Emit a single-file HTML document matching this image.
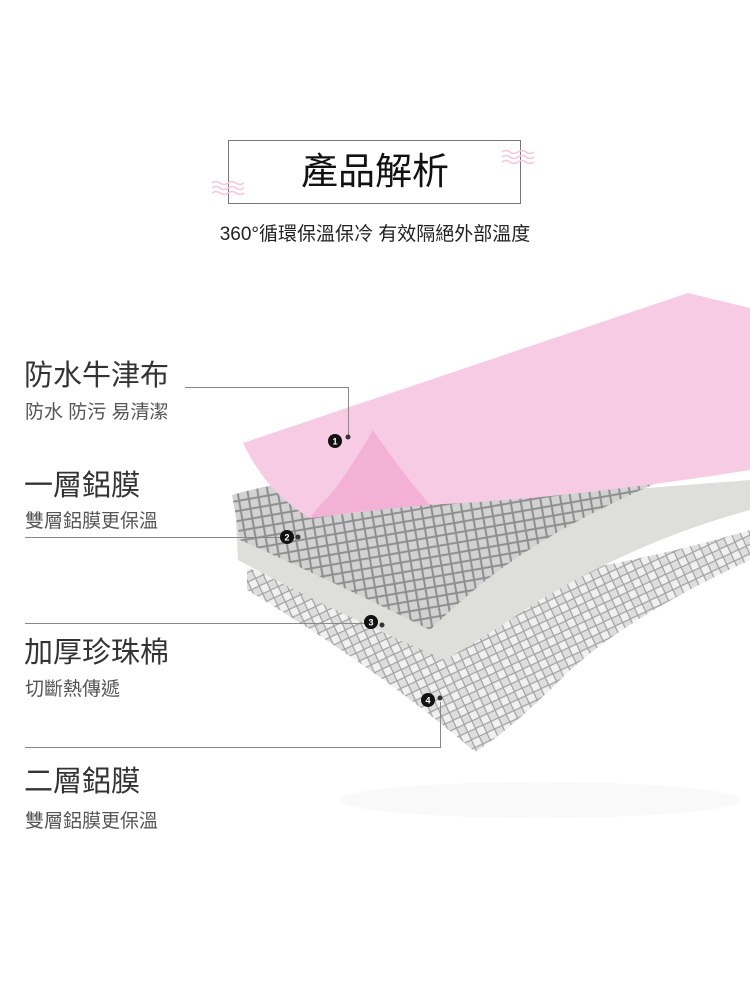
<!DOCTYPE html>
<html><head><meta charset="utf-8"><style>
body{margin:0;width:750px;height:1000px;background:#fff;position:relative;overflow:hidden;font-family:"Liberation Sans","Noto Sans CJK TC",sans-serif}
.t{position:absolute;white-space:nowrap;line-height:1}
.h{font-size:29px;color:#333}
.s{font-size:19px;color:#555}
</style></head><body>
<svg width="750" height="1000" style="position:absolute;left:0;top:0">
<defs>
<pattern id="q" width="14" height="14" patternUnits="userSpaceOnUse" patternTransform="rotate(35)">
<rect width="14" height="14" fill="#d2d2d2"/><path d="M0 0L14 14M14 0L0 14" stroke="#8e8e8e" stroke-width="2"/></pattern>
<pattern id="d" width="12" height="12" patternUnits="userSpaceOnUse" patternTransform="rotate(20)">
<rect width="12" height="12" fill="#dedede"/><path d="M6 0L12 6L6 12L0 6Z" fill="#f0f0f0" stroke="#a0a0a0" stroke-width="1.2"/></pattern>
</defs>
<ellipse cx="540" cy="800" rx="200" ry="18" fill="#f9f9f9"/>
<path d="M247 568 Q350 600 520 580 Q650 560 750 530 L750 560 Q620 620 560 680 Q510 730 475 752 Q380 670 247 590 Z" fill="url(#d)"/>
<path d="M236 520 L750 480 L750 510 Q640 540 540 600 Q480 640 445 660 Q330 610 238 560 Z" fill="#dededa"/>
<path d="M232 495 Q300 475 380 480 L700 465 Q560 520 480 585 Q450 610 430 630 Q330 580 240 540 Z" fill="url(#q)"/>
<path d="M688 293 L750 308 L750 470 Q560 500 420 505 Q360 512 310 518 Q280 500 262 475 Q250 458 243 443 Z" fill="#f8cbe4"/>
<path d="M373 430 Q350 470 330 495 Q315 510 310 518 Q370 510 430 505 Q400 470 373 430 Z" fill="#f3b2d5"/>
<g stroke="#888" stroke-width="1" fill="none">
<path d="M185 387.5H348.5V437"/>
<path d="M25 537.5H298"/>
<path d="M25 623.5H367"/>
<path d="M25 747.5H440.5V702"/>
</g>
<g font-family="Liberation Sans" font-size="9" font-weight="bold" fill="#fff" text-anchor="middle">
<circle cx="335" cy="441" r="7" fill="#111"/><circle cx="348" cy="437" r="2.5" fill="#333"/><text x="335" y="444.5">1</text>
<circle cx="287" cy="537" r="7" fill="#111"/><circle cx="298" cy="537" r="2.5" fill="#333"/><text x="287" y="540.5">2</text>
<circle cx="371" cy="622" r="7" fill="#111"/><circle cx="382" cy="625" r="2.5" fill="#333"/><text x="371" y="625.5">3</text>
<circle cx="428" cy="700" r="7" fill="#111"/><circle cx="440" cy="698" r="2.5" fill="#333"/><text x="428" y="703.5">4</text>
</g>
<rect x="228.5" y="140.5" width="292" height="63" fill="none" stroke="#777" stroke-width="1"/>
<g stroke="#f7c6dd" stroke-width="1.5" fill="none">
<path d="M212 183q4-3 8 0t8 0t8 0t8 0M212 188q4-3 8 0t8 0t8 0t8 0M212 193q4-3 8 0t8 0t8 0t8 0"/>
<path d="M502 152q4-3 8 0t8 0t8 0t8 0M502 157q4-3 8 0t8 0t8 0t8 0M502 162q4-3 8 0t8 0t8 0t8 0"/>
</g>
</svg>
<div class="t" style="left:0;width:750px;text-align:center;top:153px;font-size:37px;color:#111">產品解析</div>
<div class="t" style="left:0;width:750px;text-align:center;top:225px;font-size:19px;color:#222">360°循環保溫保冷 有效隔絕外部溫度</div>
<div class="t h" style="left:24px;top:362px">防水牛津布</div>
<div class="t s" style="left:25px;top:403px">防水 防污 易清潔</div>
<div class="t h" style="left:24px;top:472px">一層鋁膜</div>
<div class="t s" style="left:25px;top:512px">雙層鋁膜更保溫</div>
<div class="t h" style="left:24px;top:639px">加厚珍珠棉</div>
<div class="t s" style="left:25px;top:680px">切斷熱傳遞</div>
<div class="t h" style="left:24px;top:768px">二層鋁膜</div>
<div class="t s" style="left:25px;top:812px">雙層鋁膜更保溫</div>
</body></html>
